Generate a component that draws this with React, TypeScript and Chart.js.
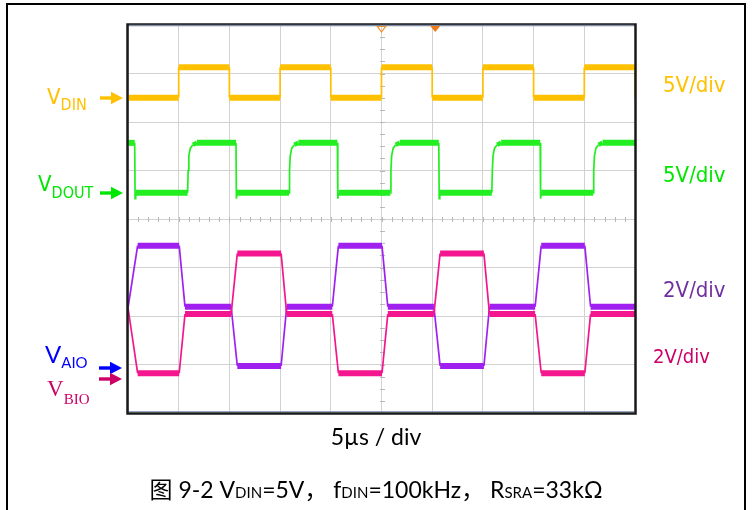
import React, { useEffect, useRef } from 'react';
import { Chart, registerables } from 'chart.js';

Chart.register(...registerables);

// Time axis in µs (10 divisions × 5 µs), vertical axis in screen divisions (8 divs).
const timeMinUs = 0;
const timeMaxUs = 50;
const timeStepUs = 5;
const divMin = 0;
const divMax = 8;
const divStep = 1;

// Traces: [time µs, position in divisions from bottom]
const vDin: [number, number][] = [
  [0, 6.5], [5, 6.5], [5, 7.13], [10, 7.13], [10, 6.5], [15, 6.5], [15, 7.13], [20, 7.13],
  [20, 6.5], [25, 6.5], [25, 7.13], [30, 7.13], [30, 6.5], [35, 6.5], [35, 7.13], [40, 7.13],
  [40, 6.5], [45, 6.5], [45, 7.13], [50, 7.13], [50, 6.5],
];

const vDout: [number, number][] = [
  [0, 5.57], [0.66, 5.57], [0.7, 4.42], [0.76, 4.54], [5.88, 4.54], [5.93, 5.0], [6.0, 5.3], [6.15, 5.46], [6.4, 5.53], [6.8, 5.57],
  [10.65, 5.57], [10.69, 4.42], [10.75, 4.54], [15.88, 4.54], [15.93, 5.0], [16.0, 5.3], [16.15, 5.46], [16.4, 5.53], [16.8, 5.57],
  [20.65, 5.57], [20.69, 4.42], [20.75, 4.54], [25.88, 4.54], [25.93, 5.0], [26.0, 5.3], [26.15, 5.46], [26.4, 5.53], [26.8, 5.57],
  [30.65, 5.57], [30.69, 4.42], [30.75, 4.54], [35.88, 4.54], [35.93, 5.0], [36.0, 5.3], [36.15, 5.46], [36.4, 5.53], [36.8, 5.57],
  [40.65, 5.57], [40.69, 4.42], [40.75, 4.54], [45.88, 4.54], [45.93, 5.0], [46.0, 5.3], [46.15, 5.46], [46.4, 5.53], [46.8, 5.57],
  [50, 5.57],
];

const vAio: [number, number][] = [
  [0, 2.17], [0.95, 3.45], [5.05, 3.45], [5.62, 2.19], [10.17, 2.19], [10.78, 0.97], [15.1, 0.97],
  [15.65, 2.19], [20.15, 2.19], [20.75, 3.45], [25.05, 3.45], [25.62, 2.19], [30.17, 2.19], [30.78, 0.97],
  [35.1, 0.97], [35.65, 2.19], [40.15, 2.19], [40.75, 3.45], [45.05, 3.45], [45.62, 2.19], [50, 2.19],
];

const vBio: [number, number][] = [
  [0, 2.17], [0.95, 0.82], [5.05, 0.82], [5.62, 2.04], [10.17, 2.04], [10.78, 3.29], [15.1, 3.29],
  [15.65, 2.04], [20.15, 2.04], [20.75, 0.82], [25.05, 0.82], [25.62, 2.04], [30.17, 2.04], [30.78, 3.29],
  [35.1, 3.29], [35.65, 2.04], [40.15, 2.04], [40.75, 0.82], [45.05, 0.82], [45.62, 2.04], [50, 2.04],
];

// Trigger markers on the top edge (µs)
const triggerHollowUs = 25;
const triggerFilledUs = 30.3;

const COL_DIN = '#FFC000';
const COL_DOUT = '#22EE22';
const COL_AIO = '#A020F0';
const COL_BIO = '#F3168E';

const toPts = (arr: [number, number][]) => arr.map(([x, y]) => ({ x, y }));

const segWidth = (ctx: any) => {
  const dx = Math.abs(ctx.p1.x - ctx.p0.x);
  const dy = Math.abs(ctx.p1.y - ctx.p0.y);
  if (dy < 0.5) return 6;
  if (dy < dx * 0.6) return 4.5;
  return 1.7;
};

const scopePlugin = {
  id: 'scopeDecor',
  beforeDatasetsDraw(chart: any) {
    const { ctx, scales } = chart;
    const x = scales.x;
    const y = scales.y;
    ctx.save();
    ctx.strokeStyle = '#b8b8b8';
    ctx.lineWidth = 1;
    ctx.beginPath();
    const yc = Math.round(y.getPixelForValue(4)) + 0.5;
    for (let t = timeMinUs; t <= timeMaxUs; t += 1) {
      const px = Math.round(x.getPixelForValue(t)) + 0.5;
      ctx.moveTo(px, yc - 2.5);
      ctx.lineTo(px, yc + 2.5);
    }
    const xc = Math.round(x.getPixelForValue(25)) + 0.5;
    for (let v = divMin; v <= divMax; v += 0.25) {
      const py = Math.round(y.getPixelForValue(v)) + 0.5;
      ctx.moveTo(xc - 2.5, py);
      ctx.lineTo(xc + 2.5, py);
    }
    ctx.stroke();
    ctx.restore();
  },
  afterDatasetsDraw(chart: any) {
    const { ctx, chartArea: a, scales } = chart;
    const x = scales.x;
    ctx.save();
    ctx.strokeStyle = '#1a1a1a';
    ctx.lineWidth = 2.5;
    ctx.strokeRect(a.left - 0.5, a.top - 0.5, a.right - a.left + 1, a.bottom - a.top + 1);
    ctx.strokeStyle = '#7d8ba3';
    ctx.lineWidth = 1.5;
    ctx.beginPath();
    ctx.moveTo(a.left + 1, a.top + 0.5);
    ctx.lineTo(a.right - 1, a.top + 0.5);
    ctx.stroke();
    ctx.strokeStyle = '#95a6c4';
    ctx.lineWidth = 1;
    ctx.beginPath();
    ctx.moveTo(a.left + 1, a.bottom - 1.5);
    ctx.lineTo(a.right - 1, a.bottom - 1.5);
    ctx.stroke();
    const hx = x.getPixelForValue(triggerHollowUs);
    ctx.strokeStyle = '#F0902A';
    ctx.lineWidth = 1.2;
    ctx.beginPath();
    ctx.moveTo(hx - 4, a.top + 1.5);
    ctx.lineTo(hx + 4, a.top + 1.5);
    ctx.lineTo(hx, a.top + 7);
    ctx.closePath();
    ctx.stroke();
    const fx = x.getPixelForValue(triggerFilledUs);
    ctx.fillStyle = '#F07A1A';
    ctx.beginPath();
    ctx.moveTo(fx - 5, a.top + 1);
    ctx.lineTo(fx + 5, a.top + 1);
    ctx.lineTo(fx, a.top + 7);
    ctx.closePath();
    ctx.fill();
    ctx.restore();
  },
};

function Arrow({ left, cy, color }: { left: number; cy: number; color: string }) {
  return (
    <svg width={23} height={14} style={{ position: 'absolute', left, top: cy - 7 }} viewBox="0 0 23 14">
      <rect x={0} y={5.3} width={12} height={3.4} fill={color} />
      <polygon points="11,0.8 23,7 11,13.2" fill={color} />
    </svg>
  );
}

const SANS_NARROW = '"DejaVu Sans Condensed", "Liberation Sans Narrow", "DejaVu Sans", sans-serif';
const SANS = 'Lato, "Noto Sans CJK SC", sans-serif';
const SERIF = '"Liberation Serif", "DejaVu Serif", serif';

function Txt({
  left, baseline, size, font, color, ratio, children, center,
}: {
  left: number; baseline: number; size: number; font: string; color: string; ratio: number;
  children: React.ReactNode; center?: boolean;
}) {
  return (
    <div
      style={{
        position: 'absolute',
        left: center ? 0 : left,
        width: center ? 752 : undefined,
        textAlign: center ? 'center' : 'left',
        top: baseline - size * ratio,
        fontSize: size,
        lineHeight: `${size}px`,
        fontFamily: font,
        color,
        whiteSpace: 'nowrap',
      }}
    >
      {children}
    </div>
  );
}

export default function App() {
  const canvasRef = useRef<HTMLCanvasElement | null>(null);

  useEffect(() => {
    if (!canvasRef.current) return;
    const mk = (label: string, data: [number, number][], color: string, order: number) => ({
      label,
      data: toPts(data),
      borderColor: color,
      backgroundColor: color,
      borderWidth: 6,
      pointRadius: 0,
      tension: 0,
      fill: false,
      order,
      borderCapStyle: 'butt' as const,
      borderJoinStyle: 'miter' as const,
      segment: { borderWidth: segWidth },
    });
    const chart = new Chart(canvasRef.current, {
      type: 'line',
      data: {
        datasets: [
          mk('VDIN', vDin, COL_DIN, 4),
          mk('VDOUT', vDout, COL_DOUT, 3),
          mk('VAIO', vAio, COL_AIO, 2),
          mk('VBIO', vBio, COL_BIO, 1),
        ],
      },
      options: {
        animation: false,
        responsive: false,
        devicePixelRatio: 1,
        layout: { padding: { left: 128, right: 117, top: 25, bottom: 97 } },
        plugins: { legend: { display: false }, tooltip: { enabled: false }, title: { display: false } },
        scales: {
          x: {
            type: 'linear',
            min: timeMinUs,
            max: timeMaxUs,
            ticks: { display: false, stepSize: timeStepUs },
            grid: { color: '#d2d2d2', lineWidth: 1, drawTicks: false },
            border: { display: false },
            afterFit: (s: any) => { s.height = 0; },
          },
          y: {
            type: 'linear',
            min: divMin,
            max: divMax,
            ticks: { display: false, stepSize: divStep },
            grid: { color: '#d2d2d2', lineWidth: 1, drawTicks: false },
            border: { display: false },
            afterFit: (s: any) => { s.width = 0; },
          },
        },
      },
      plugins: [scopePlugin],
    });
    return () => chart.destroy();
  }, []);

  const cjk = { fontFamily: '"Noto Sans CJK SC", sans-serif' };

  return (
    <div style={{ position: 'absolute', left: 0, top: 0, width: 752, height: 510, overflow: 'hidden', background: '#ffffff' }}>
      <div
        style={{
          position: 'absolute', left: 6, top: 3, width: 736, height: 540,
          borderTop: '2px solid #000', borderLeft: '2.5px solid #000', borderRight: '2.5px solid #000',
        }}
      />
      <canvas ref={canvasRef} width={752} height={510} style={{ position: 'absolute', left: 0, top: 0, width: 752, height: 510 }} />

      <Txt left={47} baseline={105} size={22} font={SANS_NARROW} color={COL_DIN} ratio={0.846}>
        V<span style={{ fontSize: 16, position: 'relative', top: 6 }}>DIN</span>
      </Txt>
      <Arrow left={100} cy={98} color={COL_DIN} />

      <Txt left={38} baseline={192} size={22} font={SANS_NARROW} color="#00E600" ratio={0.846}>
        V<span style={{ fontSize: 16, position: 'relative', top: 7 }}>DOUT</span>
      </Txt>
      <Arrow left={100} cy={193} color="#00E600" />

      <Txt left={45} baseline={363} size={24} font={SANS} color="#0000FF" ratio={0.887}>
        V<span style={{ fontSize: 15, position: 'relative', top: 5 }}>AIO</span>
      </Txt>
      <Arrow left={99} cy={368} color="#0000FF" />

      <Txt left={47} baseline={396} size={23} font={SERIF} color="#CC0066" ratio={0.8375}>
        V<span style={{ fontSize: 15, position: 'relative', top: 8 }}>BIO</span>
      </Txt>
      <Arrow left={99} cy={379} color="#CC0066" />

      <Txt left={663} baseline={93} size={22} font={SANS_NARROW} color={COL_DIN} ratio={0.846}>5V/div</Txt>
      <Txt left={663} baseline={183} size={22} font={SANS_NARROW} color="#00E600" ratio={0.846}>5V/div</Txt>
      <Txt left={663} baseline={298} size={22} font={SANS_NARROW} color="#7030A0" ratio={0.846}>2V/div</Txt>
      <Txt left={653} baseline={363} size={20} font={SANS_NARROW} color="#CC0066" ratio={0.846}>2V/div</Txt>

      <Txt left={0} center baseline={445} size={23} font={SANS} color="#000" ratio={0.887}>
        5µs / div
      </Txt>

      <Txt left={0} center baseline={497} size={23} font={SANS} color="#000" ratio={0.887}>
        <span style={cjk}>图</span> 9-2 V<span style={{ fontSize: 15 }}>DIN</span>=5V<span style={cjk}>，</span> f
        <span style={{ fontSize: 15 }}>DIN</span>=100kHz<span style={cjk}>，</span> R
        <span style={{ fontSize: 15 }}>SRA</span>=33kΩ
      </Txt>
    </div>
  );
}
